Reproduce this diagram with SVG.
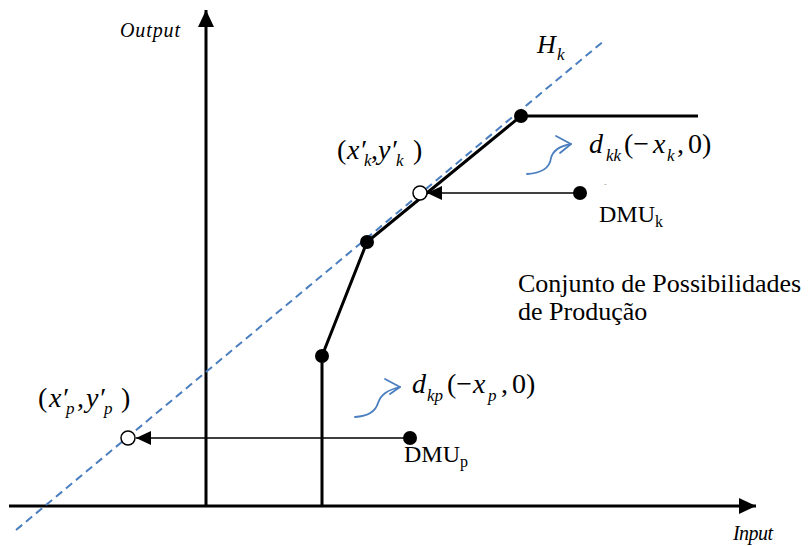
<svg xmlns="http://www.w3.org/2000/svg" width="811" height="546" viewBox="0 0 811 546">
<style>
.m{font-size:28px}
.i{font-style:italic}
.s{font-size:17px}
.lbl{font-size:24px}
.ax{font-size:20px;font-style:italic}
.axis{stroke:#000;stroke-width:3;fill:none}
.front{stroke:#000;stroke-width:3;fill:none}
.proj{stroke:#000;stroke-width:1.5;fill:none}
.hyp{stroke:#4A7EBF;stroke-width:2;stroke-dasharray:8 5;fill:none}
.curl{stroke:#4A7EBF;stroke-width:1.8;fill:none;stroke-linecap:round;stroke-linejoin:round}
.dot{fill:#000}
.open{fill:#fff;stroke:#000;stroke-width:1.5}
</style>
<defs>
<marker id="ah" viewBox="0 0 17 16" refX="17" refY="8" markerWidth="17" markerHeight="16" markerUnits="userSpaceOnUse" orient="auto"><path d="M0,0 L17,8 L0,16 z" fill="#000"/></marker>
<marker id="tri" viewBox="0 0 15 14" refX="15" refY="7" markerWidth="15" markerHeight="14" markerUnits="userSpaceOnUse" orient="auto"><path d="M0,0 L15,7 L0,14 z" fill="#000"/></marker>
</defs>
<g id="axes">
<line class="axis" x1="206" y1="506" x2="206" y2="10" marker-end="url(#ah)"/>
<line class="axis" x1="9" y1="506" x2="756" y2="506" marker-end="url(#ah)"/>
<text font-family="Liberation Serif" class="ax" x="120" y="37" textLength="60">Output</text>
<text font-family="Liberation Serif" class="ax" x="733" y="540" textLength="40">Input</text>
</g>
<g id="connectors">
<line class="hyp" x1="16" y1="530" x2="605" y2="40"/>
<polyline class="front" points="322,506 322,356 367,242 521,116 698,116"/>
<line class="proj" x1="580" y1="193" x2="427" y2="193" marker-end="url(#tri)"/>
<line class="proj" x1="410" y1="438" x2="136" y2="438" marker-end="url(#tri)"/>
<path class="curl" d="M527,174 C545,173 550,166 551,158 C553,150 560,146 571,144"/>
<path class="curl" d="M556,136 L571,144 L560,153"/>
<path class="curl" d="M355,417 C370,416 376,410 378,403 C381,394 388,390 400,387"/>
<path class="curl" d="M385,379 L400,387 L390,394"/>
</g>
<g id="frontier-points">
<circle class="dot" cx="322" cy="356" r="7"/>
<circle class="dot" cx="367" cy="242" r="7"/>
<circle class="dot" cx="521" cy="116" r="7"/>
</g>
<g id="dmu-k">
<circle class="dot" cx="580" cy="193" r="7"/>
<text font-family="Liberation Serif" x="604" y="187" font-size="8" fill="#999">-</text>
<text font-family="Liberation Serif" class="lbl" x="599" y="222">DMU<tspan font-size="16" dy="5">k</tspan></text>
</g>
<g id="dmu-p">
<circle class="dot" cx="410" cy="438" r="7"/>
<text font-family="Liberation Serif" class="lbl" x="404" y="462">DMU<tspan font-size="16" dy="5">p</tspan></text>
</g>
<g id="proj-k">
<circle class="open" cx="420" cy="193" r="7"/>
<text font-family="Liberation Serif" class="m" y="159"><tspan x="337">(</tspan><tspan x="347" class="i">x′</tspan><tspan x="364" y="166" class="s i">k</tspan><tspan x="371" y="159">,</tspan><tspan x="378" class="i">y′</tspan><tspan x="396" y="166" class="s i">k</tspan><tspan x="413" y="159">)</tspan></text>
</g>
<g id="proj-p">
<circle class="open" cx="128" cy="438" r="7"/>
<text font-family="Liberation Serif" class="m" y="407"><tspan x="38">(</tspan><tspan x="49" class="i">x′</tspan><tspan x="66" y="414" class="s i">p</tspan><tspan x="77" y="407">,</tspan><tspan x="86" class="i">y′</tspan><tspan x="104" y="414" class="s i">p</tspan><tspan x="121" y="407">)</tspan></text>
</g>
<g id="label-dkk">
<text font-family="Liberation Serif" class="m" y="153"><tspan x="589" class="i">d</tspan><tspan x="606" y="161" class="s i">kk</tspan><tspan x="624" y="153">(−</tspan><tspan x="653" class="i">x</tspan><tspan x="667" y="161" class="s i">k</tspan><tspan x="677" y="153">,</tspan><tspan x="688">0)</tspan></text>
</g>
<g id="label-dkp">
<text font-family="Liberation Serif" class="m" y="393"><tspan x="412" class="i">d</tspan><tspan x="427" y="401" class="s i">kp</tspan><tspan x="447" y="393">(−</tspan><tspan x="473" class="i">x</tspan><tspan x="488" y="401" class="s i">p</tspan><tspan x="501" y="393">,</tspan><tspan x="512">0)</tspan></text>
</g>
<g id="label-hk">
<text font-family="Liberation Serif" class="i" font-size="26" x="537" y="53">H<tspan class="s" x="557" y="60">k</tspan></text>
</g>
<g id="label-cpp">
<text font-family="Liberation Serif" x="518" y="292" font-size="26">Conjunto de Possibilidades</text>
<text font-family="Liberation Serif" x="518" y="320" font-size="26">de Produção</text>
</g>
</svg>
